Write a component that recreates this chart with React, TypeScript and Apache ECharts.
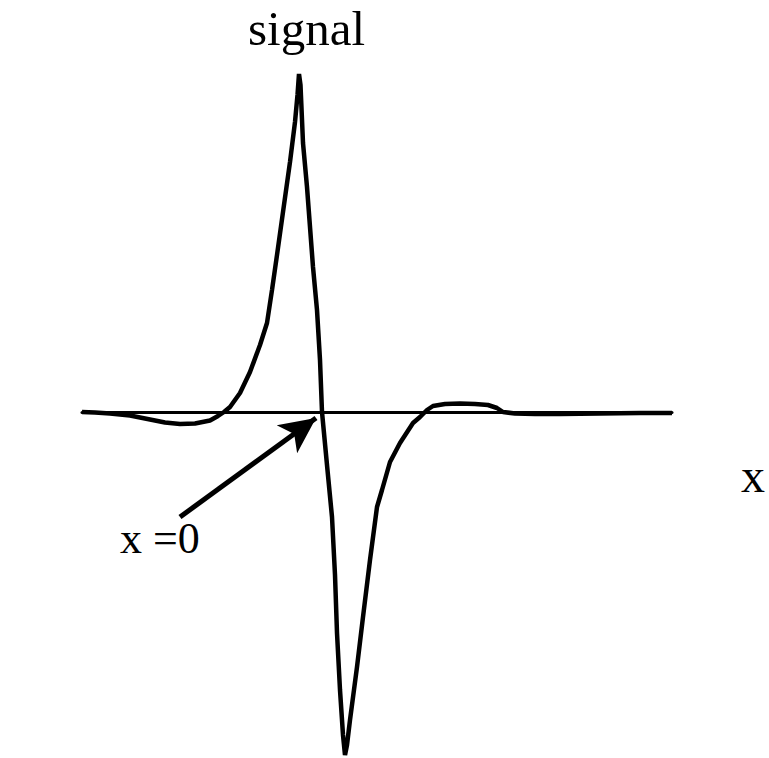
import React, { useEffect, useRef } from "react";
import * as echarts from "echarts";

// Signal profile sampled along x (x = 0 is the zero crossing between the lobes)
const xValues = [
  -24, -22.7, -21.2, -19.2, -17.2, -15.7, -14.2, -12.7, -11.2, -10.4, -9.8,
  -9.2, -8.2, -7.2, -6.2, -5.5, -5.0, -4.5, -3.9, -3.2, -2.7, -2.45, -2.3,
  -2.15, -1.9, -1.5, -1.2, -0.9, -0.5, -0.2, 0, 0.5, 1.0, 1.3, 1.5, 1.8, 2.1,
  2.3, 2.5, 2.8, 3.5, 4.1, 4.8, 5.5, 6.0, 6.8, 7.8, 9.1, 9.8, 10.5, 11.1, 12.3,
  13.8, 15.3, 16.6, 17.5, 18.1, 19.3, 21.3, 23.8, 27.8, 31.8, 35,
];
const signalValues = [
  0, -0.05, -0.15, -0.35, -0.75, -1.05, -1.2, -1.15, -0.85, -0.4, 0,
  0.5, 1.9, 4.0, 6.7, 8.9, 12.2, 15.7, 20.0, 25.0, 29.0, 31.7, 33.8,
  32.7, 26.9, 22.5, 18.5, 14.5, 10.2, 5.2, 0, -5.3, -10.5, -16.3, -22.1, -27.8, -32.3,
  -34.3, -33.3, -30.8, -25.5, -20.5, -14.8, -9.5, -7.8, -5.0, -3.1, -1.1, -0.5, 0.2, 0.6, 0.8,
  0.85, 0.8, 0.7, 0.4, 0, -0.15, -0.2, -0.2, -0.15, -0.1, -0.1,
];

// Pointer from the "x =0" label to the origin
const arrowTail = [-14.2, -10.5];
const arrowTip = [-0.6, -0.6];

const X_MIN = -24;
const X_MAX = 35;
const Y_MIN = -34.5;
const Y_MAX = 34;

const SERIF = "'Liberation Serif', 'DejaVu Serif', serif";

export default function App() {
  const ref = useRef<HTMLDivElement>(null);

  useEffect(() => {
    if (!ref.current) return;
    const chart = echarts.init(ref.current, null, { renderer: "svg" });
    const points = xValues.map((x, i) => [x, signalValues[i]]);

    chart.setOption({
      animation: false,
      backgroundColor: "#ffffff",
      grid: { left: 82, right: 97, top: 72, bottom: 1 },
      xAxis: {
        type: "value",
        min: X_MIN,
        max: X_MAX,
        axisLine: { show: true, onZero: true, lineStyle: { color: "#000", width: 3 } },
        axisTick: { show: false },
        axisLabel: { show: false },
        splitLine: { show: false },
      },
      yAxis: {
        type: "value",
        min: Y_MIN,
        max: Y_MAX,
        show: false,
        splitLine: { show: false },
      },
      series: [
        {
          type: "line",
          data: points,
          showSymbol: false,
          clip: false,
          smooth: false,
          lineStyle: { color: "#000", width: 4.5 },
          markLine: {
            silent: true,
            animation: false,
            label: { show: false },
            lineStyle: { color: "#000", width: 5, type: "solid" },
            data: [
              [
                { coord: arrowTail, symbol: "none" },
                { coord: arrowTip, symbol: "arrow", symbolSize: [26, 36] },
              ],
            ],
          },
        },
      ],
      graphic: [
        {
          type: "text",
          left: 248,
          top: 4,
          style: { text: "signal", font: `49px ${SERIF}`, fill: "#000" },
        },
        {
          type: "text",
          left: 741,
          top: 451,
          style: { text: "x", font: `48px ${SERIF}`, fill: "#000" },
        },
        {
          type: "text",
          left: 120,
          top: 516,
          style: { text: "x =0", font: `44px ${SERIF}`, fill: "#000" },
        },
      ],
    });

    return () => chart.dispose();
  }, []);

  return (
    <div
      ref={ref}
      style={{ position: "fixed", left: 0, top: 0, width: 769, height: 758 }}
    />
  );
}
